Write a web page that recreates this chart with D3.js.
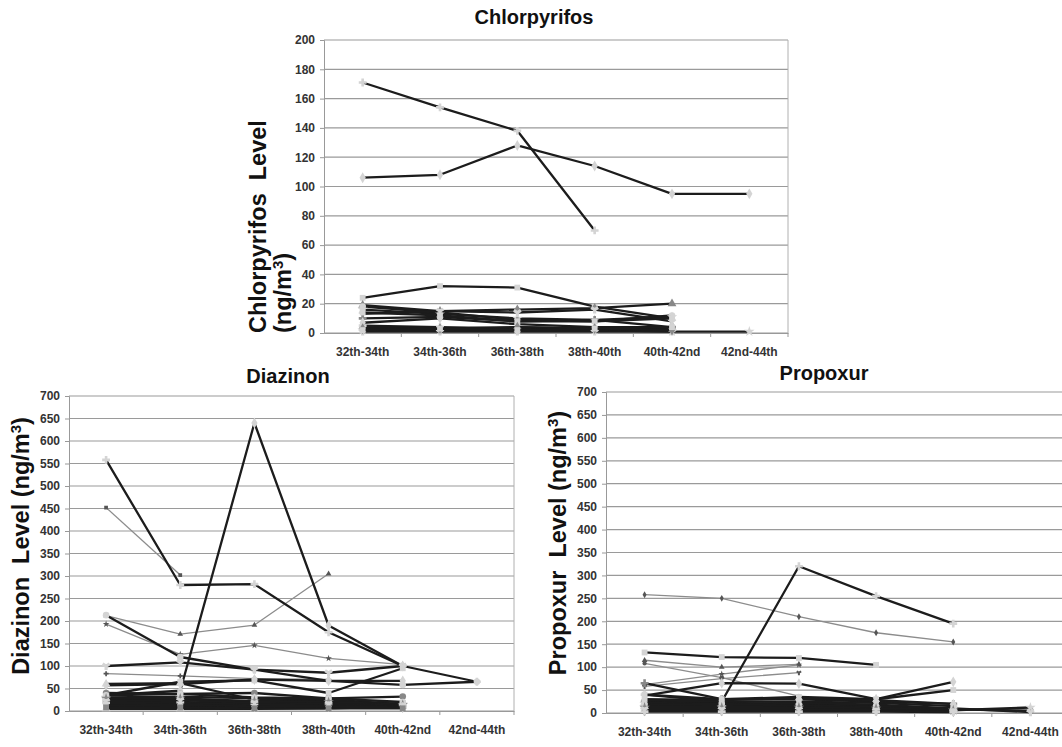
<!DOCTYPE html>
<html>
<head>
<meta charset="utf-8">
<script src="https://cdn.jsdelivr.net/npm/d3@7"></script>
<style>
  body { margin: 0; background: #fff; }
  svg { display: block; font-family: Arial, "Liberation Sans", sans-serif; }
</style>
</head>
<body>
<script>
const cats = ["32th-34th", "34th-36th", "36th-38th", "38th-40th", "40th-42nd", "42nd-44th"];

// Chlorpyrifos (ng/m3), one row per subject, null = no sample
const chlor = [
  [171, 154, 138, 70, null, null],
  [106, 108, 128, 114, 95, 95],
  [24, 32, 31, 18, 10, null],
  [19, 15, 16, 17, 20, null],
  [18, 14, 9, 8, 12, null],
  [16, 13, 10, 9, 11, null],
  [13, 15, 14, 16, 8, null],
  [10, 11, 8, 9, 4, null],
  [7, 10, 6, 4, 4, null],
  [14, 12, 8, 8, 10, null],
  [4, 3, 4, 3, 4, null],
  [3, 2, 3, 2, 3, null],
  [2, 2, 2, 2, 1, 1],
  [1, 1, 1, 1, 1, null],
  [5, 4, 3, 3, 2, null],
  [3, 3, 4, 3, 2, null],
  [2, 3, 2, 3, 4, null]
];
const chlorTicks = [0, 20, 40, 60, 80, 100, 120, 140, 160, 180, 200];

// Diazinon (ng/m3)
const diaz = [
  [558, 280, 282, 175, 100, 65],
  [35, 45, 640, 190, 100, null],
  [452, 302, null, null, null, null],
  [212, 171, 191, 305, null, null],
  [213, 120, 92, 67, 58, 65],
  [193, 126, 146, 117, 103, null],
  [100, 108, 92, 85, 100, null],
  [83, 78, 72, 70, null, null],
  [57, 60, 70, 67, 67, null],
  [35, 65, 68, 40, 95, null],
  [60, 62, 25, 22, 15, null],
  [40, 38, 40, 28, 32, null],
  [30, 32, 28, 25, 15, null],
  [25, 25, 20, 18, 12, null],
  [20, 20, 15, 15, 10, null],
  [15, 15, 12, 10, 8, null],
  [10, 12, 8, 8, 18, null],
  [5, 5, 5, 6, 10, null],
  [35, 38, 30, 28, 20, null],
  [28, 28, 22, 20, 14, null],
  [22, 24, 18, 16, 12, null],
  [18, 18, 14, 12, 10, null],
  [12, 14, 10, 10, 8, null],
  [8, 8, 6, 6, 6, null]
];

// Propoxur (ng/m3)
const prop = [
  [40, 25, 320, 255, 195, null],
  [258, 250, 210, 175, 155, null],
  [132, 122, 120, 105, null, null],
  [115, 100, 106, null, null, null],
  [108, 77, 37, null, null, null],
  [62, 85, 105, null, null, null],
  [58, 75, 88, null, null, null],
  [65, 30, 30, 25, 20, null],
  [38, 65, 64, 30, 68, null],
  [40, 30, 35, 30, 50, null],
  [30, 28, 32, 28, 20, null],
  [25, 22, 20, 15, 8, 5],
  [20, 18, 18, 15, 6, 12],
  [15, 15, 15, 12, 10, 2],
  [10, 10, 10, 8, 5, null],
  [5, 5, 5, 5, 3, null],
  [28, 25, 25, 22, 15, null],
  [22, 20, 22, 18, 10, null],
  [18, 20, 16, 14, 8, null],
  [12, 12, 12, 10, 6, null],
  [8, 8, 8, 6, 4, null],
  [3, 3, 3, 3, 2, null]
];
const ticks700 = d3.range(0, 701, 50);

// line style per row: k = dark thick, g = grey thin ; marker per row
const chlorLine = "kkkkkkkkkkkkkkkkk";
const diazLine  = "kkggkgkgkkkkkkkkkkkkkkkk";
const propLine  = "kgkggggkkkkkkkkkkkkkkk";
const marks = ["cross", "diamond", "square", "triangle", "circle", "star", "wye"];

const svg = d3.select("body").append("svg")
    .attr("width", 1062)
    .attr("height", 747);

function panel(o) {
  const x = d3.scaleBand().domain(cats).range([o.left, o.right]);
  const y = d3.scaleLinear().domain([0, o.max]).range([o.bottom, o.top]);
  const cx = i => x(cats[i]) + x.bandwidth() / 2;
  const g = svg.append("g");

  // grid
  g.append("g").selectAll("line").data(o.ticks).join("line")
      .attr("x1", o.left).attr("x2", o.right)
      .attr("y1", d => y(d)).attr("y2", d => y(d))
      .attr("stroke", "#9a9a9a").attr("stroke-width", 1.2);
  g.append("line")
      .attr("x1", o.right).attr("x2", o.right)
      .attr("y1", o.top).attr("y2", o.bottom)
      .attr("stroke", "#b0b0b0");

  // y axis
  const ya = g.append("g")
      .attr("transform", `translate(${o.left},0)`)
      .call(d3.axisLeft(y).tickValues(o.ticks).tickSize(4).tickPadding(5));
  ya.select(".domain").attr("stroke", "#999");
  ya.selectAll(".tick line").attr("stroke", "#999");
  ya.selectAll("text").attr("font-size", 12).attr("font-weight", "bold").attr("fill", "#333");

  // x axis, ticks between categories
  const xa = g.append("g")
      .attr("transform", `translate(0,${o.bottom})`)
      .call(d3.axisBottom(x).tickSize(0).tickPadding(14));
  xa.select(".domain").attr("stroke", "#999");
  xa.selectAll("text").attr("font-size", 12).attr("font-weight", "bold").attr("fill", "#333");
  g.append("g").selectAll("line").data(cats).join("line")
      .attr("x1", (d, i) => o.left + (i + 1) * x.bandwidth())
      .attr("x2", (d, i) => o.left + (i + 1) * x.bandwidth())
      .attr("y1", o.bottom).attr("y2", o.bottom + 4)
      .attr("stroke", "#999");

  const line = d3.line()
      .defined(d => d != null)
      .x((d, i) => cx(i))
      .y(d => y(d));

  // draw grey thin first, dark thick on top
  const order = d3.range(o.data.length).sort((a, b) => (o.styles[a] === "g" ? 0 : 1) - (o.styles[b] === "g" ? 0 : 1) || a - b);
  order.forEach(k => {
    const row = o.data[k];
    const thin = o.styles[k] === "g";
    g.append("path")
        .attr("d", line(row))
        .attr("fill", "none")
        .attr("stroke", thin ? "#8c8c8c" : "#1c1c1c")
        .attr("stroke-width", thin ? 1.3 : 2.3)
        .attr("stroke-linejoin", "round");
    const m = marks[k % marks.length];
    const sym = d3.symbol().type(d3["symbol" + m[0].toUpperCase() + m.slice(1)]).size(thin ? 14 : 34);
    g.append("g").selectAll("path")
      .data(row.map((v, i) => [v, i]).filter(d => d[0] != null))
      .join("path")
        .attr("transform", d => `translate(${cx(d[1])},${y(d[0])})`)
        .attr("d", sym)
        .attr("fill", thin ? "#555" : (k % 4 === 3 ? "#888" : "#d4d4d4"))
        .attr("stroke", "none");
  });

  // title
  svg.append("text")
      .attr("x", o.titleX).attr("y", o.titleY)
      .attr("text-anchor", "middle")
      .attr("font-size", 20).attr("font-weight", "bold").attr("fill", "#111")
      .text(o.title);
}

panel({
  title: "Chlorpyrifos", titleX: 534, titleY: 24,
  left: 324, right: 788, top: 40, bottom: 333, max: 200, ticks: chlorTicks,
  data: chlor, styles: chlorLine
});
panel({
  title: "Diazinon", titleX: 288, titleY: 383,
  left: 69, right: 514, top: 396, bottom: 711, max: 700, ticks: ticks700,
  data: diaz, styles: diazLine
});
panel({
  title: "Propoxur", titleX: 824, titleY: 380,
  left: 606, right: 1069, top: 392, bottom: 713, max: 700, ticks: ticks700,
  data: prop, styles: propLine
});

// y axis titles
function yTitle(x, y, anchor, parts) {
  const t = svg.append("text")
      .attr("transform", `translate(${x},${y}) rotate(-90)`)
      .attr("text-anchor", anchor)
      .attr("font-size", 23.5).attr("font-weight", "bold").attr("fill", "#111");
  parts.forEach(p => {
    t.append("tspan")
        .attr("font-size", p.sup ? 15 : 23.5)
        .attr("dy", p.sup ? -8 : (p.after ? 8 : 0))
        .text(p.t);
  });
}
yTitle(266, 333, "start", [{t: "Chlorpyrifos\u00a0\u00a0Level"}]);
yTitle(291, 333, "start", [{t: "(ng/m"}, {t: "3", sup: true}, {t: ")", after: true}]);
yTitle(29, 546, "middle", [{t: "Diazinon\u00a0\u00a0Level (ng/m"}, {t: "3", sup: true}, {t: ")", after: true}]);
yTitle(566, 543, "middle", [{t: "Propoxur\u00a0\u00a0Level (ng/m"}, {t: "3", sup: true}, {t: ")", after: true}]);
</script>
</body>
</html>
